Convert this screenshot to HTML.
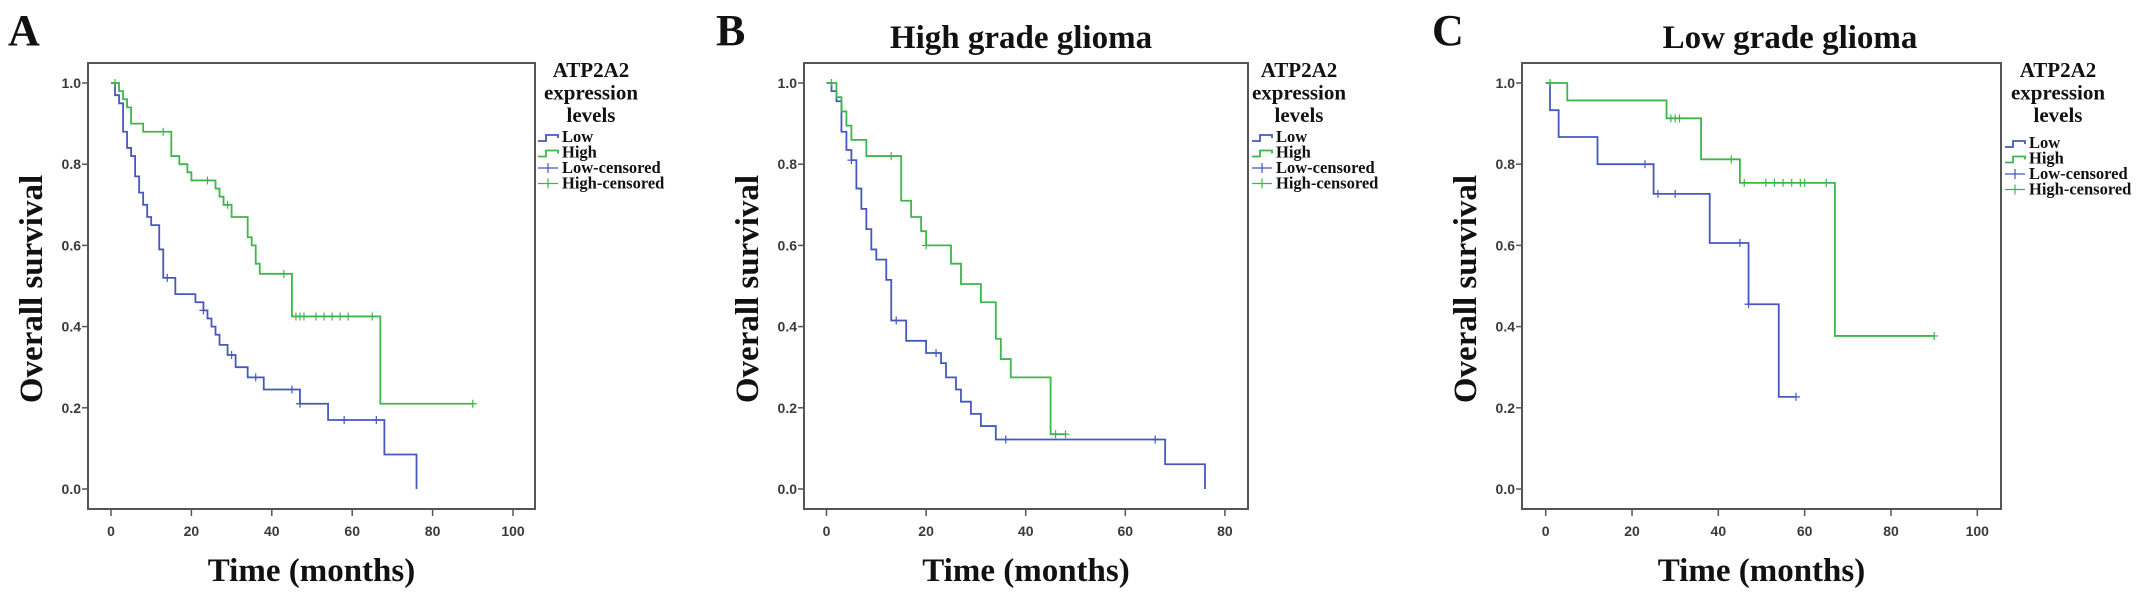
<!DOCTYPE html>
<html><head><meta charset="utf-8">
<style>
html,body{margin:0;padding:0;background:#fff;}
svg{display:block;}
.tick{font-family:"Liberation Sans",sans-serif;font-weight:bold;font-size:14px;fill:#3a3a3a;}
.serif{font-family:"Liberation Serif",serif;font-weight:bold;fill:#111;}
</style></head>
<body>
<svg id="fig" width="2150" height="595" viewBox="0 0 2150 595" xmlns="http://www.w3.org/2000/svg"></svg>
<script>
// ---- Panel A data ----
const aLowSteps = [[1,0.97],[2,0.95],[3,0.88],[4,0.84],[5,0.82],[6,0.77],[7,0.73],[8,0.70],[9,0.67],[10,0.65],[12,0.59],[13,0.52],[16,0.48],[21,0.46],[23,0.44],[24,0.42],[25,0.40],[26,0.38],[27,0.355],[29,0.33],[31,0.30],[34,0.275],[38,0.245],[47,0.21],[54,0.17],[68,0.085],[76,0.0]];
const aLowEnd = 76;
const aLowCensor = [14,23,30,36,45,47,58,66];
const aHighSteps = [[2,0.98],[3,0.96],[4,0.94],[5,0.90],[8,0.88],[15,0.82],[17,0.80],[19,0.78],[20,0.76],[26,0.74],[27,0.72],[28,0.70],[30,0.67],[34,0.62],[35,0.60],[36,0.555],[37,0.53],[45,0.425],[67,0.21]];
const aHighEnd = 90;
const aHighCensor = [1,13,24,29,43,46,47,48,51,53,55,57,59,65,90];
const aXTicks = [0,20,40,60,80,100];
// ---- Panel B data ----
const bLowSteps = [[1,0.98],[2,0.955],[3,0.88],[4,0.835],[5,0.81],[6,0.74],[7,0.69],[8,0.64],[9,0.59],[10,0.565],[12,0.515],[13,0.415],[16,0.365],[20,0.335],[23,0.31],[24,0.275],[26,0.245],[27,0.215],[29,0.185],[31,0.155],[34,0.122],[68,0.061],[76,0.0]];
const bLowEnd = 76;
const bLowCensor = [5,14,22,36,66];
const bHighSteps = [[2,0.965],[3,0.93],[4,0.895],[5,0.86],[8,0.82],[15,0.71],[17,0.67],[19,0.635],[20,0.60],[25,0.555],[27,0.505],[31,0.46],[34,0.37],[35,0.32],[37,0.275],[45,0.135]];
const bHighEnd = 48;
const bHighCensor = [1,13,20,46,48];
const bXTicks = [0,20,40,60,80];
// ---- Panel C data ----
const cLowSteps = [[1,0.933],[3,0.867],[12,0.80],[25,0.727],[38,0.606],[47,0.455],[54,0.227]];
const cLowEnd = 58;
const cLowCensor = [23,26,30,45,47,58];
const cHighSteps = [[5,0.957],[28,0.913],[36,0.812],[45,0.754],[67,0.377]];
const cHighEnd = 90;
const cHighCensor = [1,29,30,31,43,46,51,53,55,57,59,60,65,90];
const cXTicks = [0,20,40,60,80,100];
const yTicks = [0.0,0.2,0.4,0.6,0.8,1.0];
const yTickLabels = ["0.0","0.2","0.4","0.6","0.8","1.0"];
const legendItems = ["Low","High","Low-censored","High-censored"];

const NS = "http://www.w3.org/2000/svg";
const svg = document.getElementById('fig');
const BLUE = "#4658c0", GREEN = "#3db64a";
function mk(tag, attrs, parent){const e=document.createElementNS(NS,tag);for(const k in attrs)e.setAttribute(k,attrs[k]);(parent||svg).appendChild(e);return e;}

function panel(cfg){
  const g = mk('g',{});
  
  
  const X = t => cfg.x0 + t*cfg.ppm;
  const Y = s => 489 - s*406;
  const box = mk('rect',{x:cfg.left,y:63,width:cfg.right-cfg.left,height:446,fill:'none',stroke:'#555','stroke-width':2},g);
  
  
  yTicks.forEach((v,i)=>{
    mk('line',{x1:cfg.left-6,x2:cfg.left,y1:Y(v),y2:Y(v),stroke:'#555','stroke-width':1.5},g);
    const t = mk('text',{x:cfg.left-7,y:Y(v)+5,'text-anchor':'end',class:'tick'},g);
    t.textContent = yTickLabels[i];
    
    
  });
  cfg.xticks.forEach(v=>{
    mk('line',{x1:X(v),x2:X(v),y1:509,y2:516,stroke:'#555','stroke-width':1.5},g);
    const t = mk('text',{x:X(v),y:536,'text-anchor':'middle',class:'tick'},g);
    t.textContent = v;
    
    
  });
  const xt = mk('text',{x:(cfg.left+cfg.right)/2,y:581,'text-anchor':'middle',class:'serif','font-size':33},g);
  xt.textContent = 'Time (months)';
  
  
  const ycx = cfg.left-58;
  const yt = mk('text',{x:ycx,y:289,'text-anchor':'middle',class:'serif','font-size':33,transform:`rotate(-90 ${ycx} 289)`,dy:12},g);
  yt.textContent = 'Overall survival';
  
  
  const pl = mk('text',{x:cfg.letterX,y:45,class:'serif','font-size':44},g);
  pl.textContent = cfg.id;
  
  
  if(cfg.title){
    const ti = mk('text',{x:cfg.titleX,y:48,'text-anchor':'middle',class:'serif','font-size':33},g);
    ti.textContent = cfg.title;
    
    
  }
  function curve(steps,end,censor,color,name){
    let d = `M${X(0)},${Y(1)}`;
    steps.forEach(([t,s])=>{ d += ` H${X(t)} V${Y(s)}`; });
    d += ` H${X(end)}`;
    const p = mk('path',{d:d,fill:'none',stroke:color,'stroke-width':1.8},g);
    
    
    censor.forEach(ct=>{
      let s = 1; steps.forEach(([t,v])=>{ if(t<=ct) s=v; });
      const c = mk('path',{d:`M${X(ct)-4},${Y(s)} H${X(ct)+4} M${X(ct)},${Y(s)-4} V${Y(s)+4}`,stroke:color,'stroke-width':1.2},g);
      
      
    });
  }
  curve(cfg.low[0],cfg.low[1],cfg.low[2],BLUE,'low');
  curve(cfg.high[0],cfg.high[1],cfg.high[2],GREEN,'high');
  const lg = mk('g',{},g);
  
  
  ['ATP2A2','expression','levels'].forEach((s,i)=>{
    const t = mk('text',{x:cfg.legX+cfg.hdrOff,y:77+i*22.5,'text-anchor':'middle',class:'serif','font-size':21},lg);
    t.textContent = s;
    
    
  });
  const ly = cfg.legY;
  legendItems.forEach((s,i)=>{
    const y = ly + i*15.5;
    const col = i%2===0 ? BLUE : GREEN;
    if(i<2){
      mk('path',{d:`M${cfg.legX},${y} H${cfg.legX+8} V${y-6} H${cfg.legX+20} V${y-3}`,fill:'none',stroke:col,'stroke-width':1.8},lg);
    } else {
      mk('path',{d:`M${cfg.legX},${y-4} H${cfg.legX+20} M${cfg.legX+10},${y-9} V${y+1}`,fill:'none',stroke:col,'stroke-width':1.2},lg);
    }
    const t = mk('text',{x:cfg.legX+24,y:y+1,class:'serif','font-size':16.5},lg);
    t.textContent = s;
    
    
  });
}

panel({id:'A',x0:111,ppm:4.02,left:88,right:535,xticks:aXTicks,letterX:8,title:null,legX:538,legY:141,hdrOff:53,
  low:[aLowSteps,aLowEnd,aLowCensor],high:[aHighSteps,aHighEnd,aHighCensor]});
panel({id:'B',x0:826.5,ppm:4.98,left:804,right:1248,xticks:bXTicks,letterX:716,title:'High grade glioma',titleX:1021,legX:1252,legY:141,hdrOff:47,
  low:[bLowSteps,bLowEnd,bLowCensor],high:[bHighSteps,bHighEnd,bHighCensor]});
panel({id:'C',x0:1545.7,ppm:4.316,left:1522,right:2001,xticks:cXTicks,letterX:1432,title:'Low grade glioma',titleX:1790,legX:2005,legY:147,hdrOff:53,
  low:[cLowSteps,cLowEnd,cLowCensor],high:[cHighSteps,cHighEnd,cHighCensor]});
</script>
</body></html>
